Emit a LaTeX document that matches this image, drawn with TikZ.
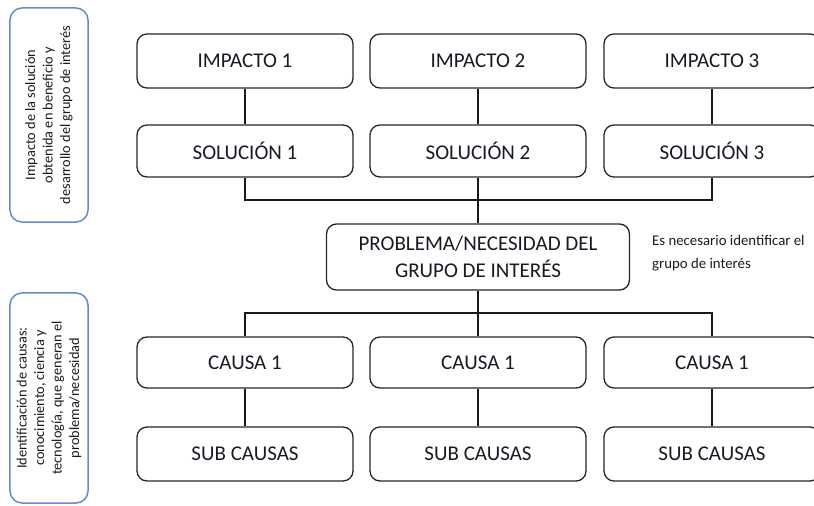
\documentclass[tikz,border=0pt]{standalone}
\usepackage{fontspec}
\setmainfont{Carlito}
\definecolor{sideblue}{RGB}{98,138,214}
\definecolor{txt}{RGB}{25,25,35}
\begin{document}
\begin{tikzpicture}[x=1bp,y=-1bp,
  box/.style={draw=black!85, line width=1.3bp, rounded corners=10bp, inner sep=0pt,
    minimum width=216bp, text=txt, font=\fontsize{21bp}{27bp}\selectfont, align=center},
  sidebox/.style={draw=sideblue, line width=1.5bp, rounded corners=12bp, inner sep=0pt,
    minimum width=78bp},
  sidetext/.style={rotate=90, align=center, text=txt, font=\fontsize{14.3bp}{17.5bp}\selectfont, inner sep=0pt},
  note/.style={align=left, text=txt, font=\fontsize{14.8bp}{23bp}\selectfont, inner sep=0pt, anchor=north west},
  conn/.style={draw=black!90, line width=1.3bp}
]
\useasboundingbox (0,0) rectangle (814,506);
\clip (0,0) rectangle (814,506);
% side boxes
\node[sidebox, minimum height=214bp] (SB1) at (49,115) {};
\node[sidetext] (ST1) at (SB1.center) {Impacto de la solución\\obtenida en beneficio y\\desarrollo del grupo de interés};
\node[sidebox, minimum height=210bp] (SB2) at (49,398) {};
\node[sidetext] (ST2) at (SB2.center) {Identificación de causas:\\conocimiento, ciencia y\\tecnología, que generan el\\problema/necesidad};
% top rows
\node[box, minimum height=54bp] (I1) at (245,61) {IMPACTO 1};
\node[box, minimum height=54bp] (I2) at (478,61) {IMPACTO 2};
\node[box, minimum height=54bp] (I3) at (712,61) {IMPACTO 3};
\node[box, minimum height=52bp] (S1) at (245,151) {SOLUCIÓN 1};
\node[box, minimum height=52bp] (S2) at (478,151) {SOLUCIÓN 2};
\node[box, minimum height=52bp] (S3) at (712,151) {SOLUCIÓN 3};
% problem
\node[box, minimum width=303bp, minimum height=66bp] (P) at (478,257) {PROBLEMA/NECESIDAD DEL\\GRUPO DE INTERÉS};
\node[note] (N) at (652,235) {Es necesario identificar el\\grupo de interés};
% causes
\node[box, minimum height=51bp] (C1) at (245,362.5) {CAUSA 1};
\node[box, minimum height=51bp] (C2) at (478,362.5) {CAUSA 1};
\node[box, minimum height=51bp] (C3) at (712,362.5) {CAUSA 1};
\node[box, minimum height=54bp] (SC1) at (245,454) {SUB CAUSAS};
\node[box, minimum height=54bp] (SC2) at (478,454) {SUB CAUSAS};
\node[box, minimum height=54bp] (SC3) at (712,454) {SUB CAUSAS};
% junctions
\coordinate (J1) at (478,200);
\coordinate (J2) at (478,313);
% connectors
\draw[conn] (I1) -- (S1);
\draw[conn] (I2) -- (S2);
\draw[conn] (I3) -- (S3);
\draw[conn] (S1.south) |- (J1) -| (S3.south);
\draw[conn] (S2.south) -- (P.north);
\draw[conn] (P.south) -- (C2.north);
\draw[conn] (C1.north) |- (J2) -| (C3.north);
\draw[conn] (C1) -- (SC1);
\draw[conn] (C2) -- (SC2);
\draw[conn] (C3) -- (SC3);
\end{tikzpicture}
\end{document}
